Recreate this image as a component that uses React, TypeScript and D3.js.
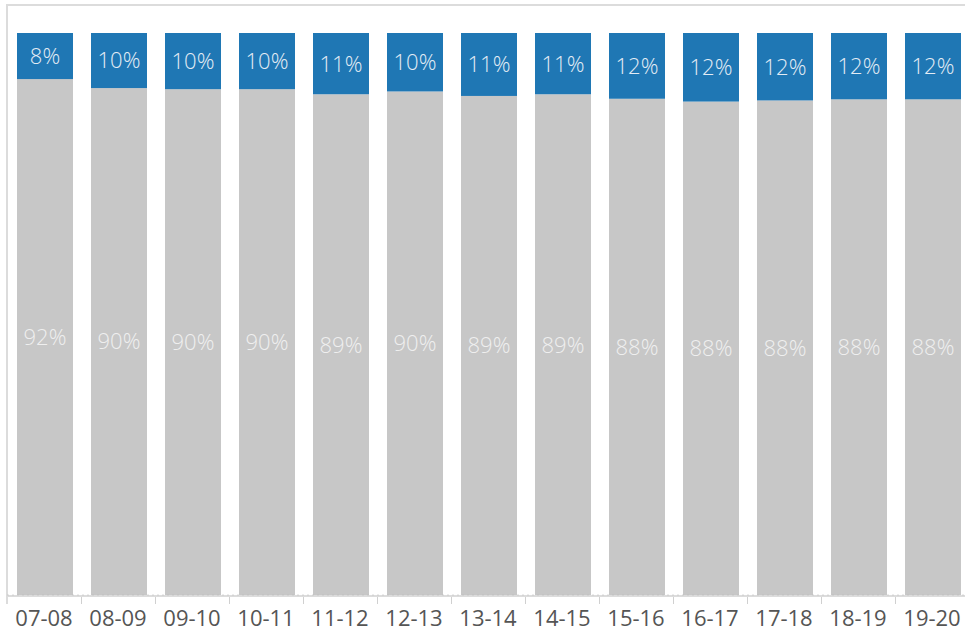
import React from "react";
import * as d3 from "d3";

const categories = ["07-08", "08-09", "09-10", "10-11", "11-12", "12-13", "13-14", "14-15", "15-16", "16-17", "17-18", "18-19", "19-20"];
const bluePct = [8.2, 9.8, 10.0, 10.0, 10.9, 10.4, 11.2, 10.9, 11.7, 12.2, 12.0, 11.8, 11.8];
const greyPct = bluePct.map((b) => 100 - b);
const blueLabels = ["8%", "10%", "10%", "10%", "11%", "10%", "11%", "11%", "12%", "12%", "12%", "12%", "12%"];
const greyLabels = ["92%", "90%", "90%", "90%", "89%", "90%", "89%", "89%", "88%", "88%", "88%", "88%", "88%"];

const W = 965;
const H = 631;

export default function App() {
  const x = d3
    .scaleBand<string>()
    .domain(categories)
    .range([8, 970])
    .paddingInner(18 / 74)
    .paddingOuter(9 / 74);
  const y = d3.scaleLinear().domain([0, 100]).range([595, 33]);
  const step = x.step();
  const bw = x.bandwidth();
  const font = "'Open Sans', 'Noto Sans', sans-serif";

  return (
    <svg width={W} height={H} style={{ position: "absolute", left: 0, top: 0, background: "#fff" }}>
      {/* frame */}
      <line x1={7} x2={W} y1={5} y2={5} stroke="#dcdcdc" strokeWidth={2} />
      <line x1={7} x2={7} y1={4} y2={604} stroke="#dcdcdc" strokeWidth={2} />
      {categories.map((c, i) => {
        const x0 = x(c)!;
        const greyTop = y(greyPct[i]);
        const blueTop = y(greyPct[i] + bluePct[i]);
        const cx = x0 + bw / 2;
        return (
          <g key={c}>
            <rect x={x0} y={greyTop} width={bw} height={y(0) - greyTop} fill="#c7c7c7" />
            <rect x={x0} y={blueTop} width={bw} height={greyTop - blueTop} fill="#1f77b4" />
            <text
              x={cx}
              y={(blueTop + greyTop) / 2}
              dy="0.36em"
              textAnchor="middle"
              fontFamily={font}
              fontWeight={300}
              fontSize={22}
              fill="#e3ecf5"
            >
              {blueLabels[i]}
            </text>
            <text
              x={cx}
              y={(greyTop + y(0)) / 2}
              dy="0.36em"
              textAnchor="middle"
              fontFamily={font}
              fontWeight={300}
              fontSize={22}
              fill="#efefef"
            >
              {greyLabels[i]}
            </text>
            <text
              x={cx - 1}
              y={626}
              textAnchor="middle"
              fontFamily={font}
              fontSize={22}
              fill="#555"
            >
              {c}
            </text>
            {i > 0 && (
              <line
                x1={Math.round(x0 - (step - bw) / 2) - 0.5}
                x2={Math.round(x0 - (step - bw) / 2) - 0.5}
                y1={596}
                y2={604}
                stroke="#d0d0d0"
                strokeWidth={1}
              />
            )}
          </g>
        );
      })}
      {/* axis baseline */}
      <line x1={7} x2={W} y1={596} y2={596} stroke="#dcdcdc" strokeWidth={2} />
      <line x1={7} x2={W} y1={595} y2={595} stroke="#bbb" strokeWidth={1} strokeDasharray="2,3" opacity={0.5} />
    </svg>
  );
}
